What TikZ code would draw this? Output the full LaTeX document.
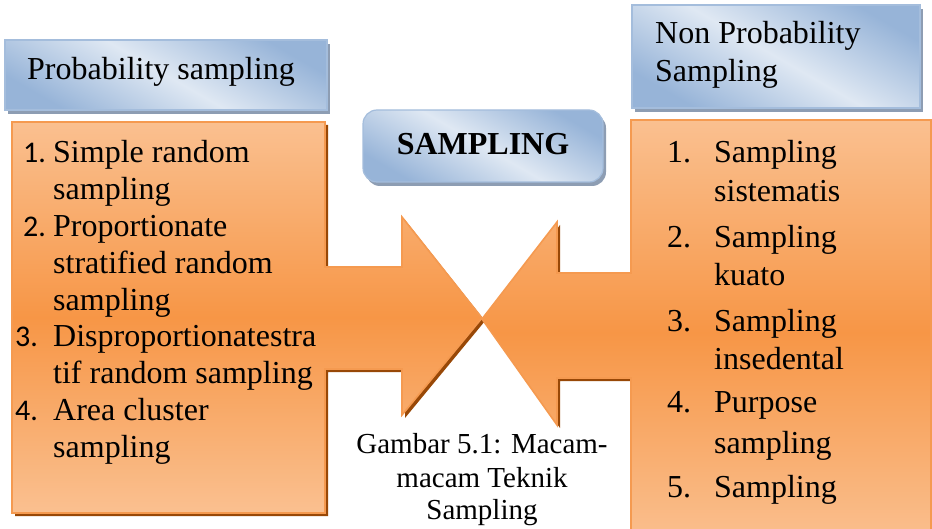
\documentclass[tikz,border=0pt]{standalone}
\usepackage{fontspec}
\setmainfont{Liberation Serif}
\newfontfamily\numfont{Carlito}
\usepackage{tikz}
\usetikzlibrary{positioning}

\definecolor{blueLight}{HTML}{DFE8F3}
\definecolor{blueDark}{HTML}{97B4D8}
\definecolor{blueEdge}{HTML}{A4BDDC}
\definecolor{blueShadow}{HTML}{8D9DB3}
\definecolor{orLight}{HTML}{FAC090}
\definecolor{orDark}{HTML}{F79646}
\definecolor{orEdge}{HTML}{F59A50}
\definecolor{orShadow}{HTML}{984807}

\begin{document}
\begin{tikzpicture}[x=1pt,y=-1pt,
    txt/.style={inner sep=0pt,anchor=base west,font=\fontsize{32}{37}\selectfont},
    num/.style={txt,font=\numfont\fontsize{30}{37}\selectfont},
    captext/.style={inner sep=0pt,anchor=base,font=\fontsize{29}{33}\selectfont},
    headbox/.style={draw=blueEdge,line width=1.2pt,top color=blueDark,bottom color=blueDark,middle color=blueLight,shading angle=-30},
    headshadow/.style={fill=blueShadow},
    callout/.style={draw=orEdge,line width=1.6pt,top color=orLight,bottom color=orLight,middle color=orDark},
    callshadow/.style={fill=orShadow}
]
\useasboundingbox (0,0) rectangle (932,529);
\clip (0,0) rectangle (932,529);
% shadows
\begin{scope}[shift={(3,4)}]
\fill[headshadow] (5,40) rectangle (327,110);
\fill[headshadow] (632,5) rectangle (920,108);
\fill[headshadow,rounded corners=14pt] (363,110) rectangle (603,182);
\end{scope}
\begin{scope}[shift={(3,3)}]
\fill[callshadow] (12,122) -- (325,122) -- (325,267) -- (402,267) -- (402,217) -- (482,318)
    -- (402,415) -- (402,369) -- (325,369) -- (325,513) -- (12,513) -- cycle;
\fill[callshadow] (631,120) -- (931,120) -- (931,545) -- (631,545) -- (631,378) -- (557,378)
    -- (557,425) -- (482,319) -- (557,222) -- (557,273) -- (631,273) -- cycle;
\end{scope}
% boxes
\path[headbox] (5,40) rectangle (327,110);
\path[headbox] (632,5) rectangle (920,108);
\path[headbox,rounded corners=14pt] (363,110) rectangle (603,182);
\path[callout] (12,122) -- (325,122) -- (325,267) -- (402,267) -- (402,217) -- (482,318)
    -- (402,415) -- (402,369) -- (325,369) -- (325,513) -- (12,513) -- cycle;
\path[callout] (631,120) -- (931,120) -- (931,545) -- (631,545) -- (631,378) -- (557,378)
    -- (557,425) -- (482,319) -- (557,222) -- (557,273) -- (631,273) -- cycle;
% headings
\node[txt] (probHead) at (27,80) {Probability sampling};
\node[txt] (nonHead) at (655,44) {Non Probability};
\node[txt] (nonHeadb) at (655,82) {Sampling};
\node[txt,anchor=base,font=\bfseries\fontsize{32}{37}\selectfont] (sampling) at (483,155) {SAMPLING};
% left list
\foreach \txt [count=\k from 0] in {Simple random,sampling,Proportionate,stratified random,sampling,Disproportionatestra,tif random sampling,Area cluster,sampling}
    \node[txt] (pl\k) at (53,{162.5+36.9*\k}) {\txt};
\foreach \n/\x/\k in {1/23/0,2/23/2,3/15/5,4/15/7}
    \node[num] (pn\n) at (\x,{162.5+36.9*\k}) {\n.};
% right list
\foreach \txt/\y [count=\k] in {Sampling/163,sistematis/202,Sampling/248,kuato/286,Sampling/332,insedental/370,Purpose/412,sampling/453,Sampling/497}
    \node[txt] (nl\k) at (714,\y) {\txt};
\foreach \n/\y in {1/163,2/248,3/332,4/412,5/497}
    \node[txt] (nn\n) at (667,\y) {\n.};
% caption
\node[captext] (capa) at (482,453) {Gambar 5.1: Macam-};
\node[captext] (capb) at (482,487) {macam Teknik};
\node[captext] (capc) at (482,519) {Sampling};
\end{tikzpicture}
\end{document}
